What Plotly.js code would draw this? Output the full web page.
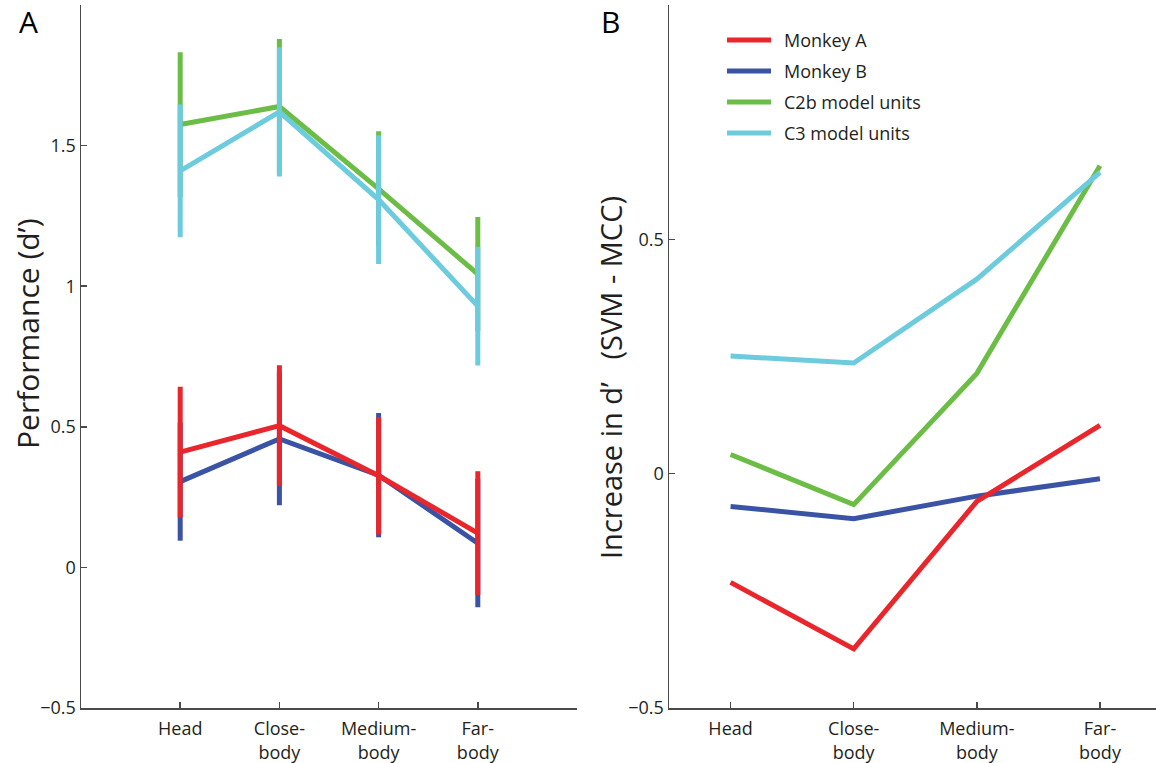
<!DOCTYPE html>
<html>
<head>
<meta charset="utf-8">
<script src="https://cdn.plot.ly/plotly-3.0.1.min.js"></script>
<style>
  html, body { margin: 0; padding: 0; background: #ffffff; }
  #chart { width: 1156px; height: 763px; }
</style>
</head>
<body>
<div id="chart"></div>
<script>
// Stimulus conditions (x positions 1..4) and their two-line tick labels
const categories = ['Head', 'Close-body', 'Medium-body', 'Far-body'];
const tickLabels = ['Head', 'Close-<br>body', 'Medium-<br>body', 'Far-<br>body'];
const xPos = [1, 2, 3, 4];

// Series names and colours
const seriesNames = ['Monkey A', 'Monkey B', 'C2b model units', 'C3 model units'];
const seriesColors = ['#e8262b', '#3a53a4', '#6bbd45', '#6ccbdd'];

// Panel A: performance (d') with error bars
const monkeyA_perf = [0.41, 0.504, 0.326, 0.122];
const monkeyA_err  = [0.232, 0.215, 0.209, 0.22];
const monkeyB_perf = [0.305, 0.457, 0.328, 0.086];
const monkeyB_err  = [0.21, 0.236, 0.221, 0.228];
const c2b_perf     = [1.575, 1.639, 1.346, 1.043];
const c2b_err      = [0.257, 0.24, 0.205, 0.203];
const c3_perf      = [1.41, 1.62, 1.308, 0.929];
const c3_err       = [0.236, 0.23, 0.229, 0.211];

// Panel B: increase in d' (SVM - MCC)
const monkeyA_diff = [-0.232, -0.374, -0.059, 0.103];
const monkeyB_diff = [-0.070, -0.096, -0.048, -0.011];
const c2b_diff     = [0.041, -0.066, 0.214, 0.657];
const c3_diff      = [0.251, 0.236, 0.415, 0.643];

// Axis ticks
const perfTicks = [-0.5, 0, 0.5, 1, 1.5];
const diffTicks = [-0.5, 0, 0.5];

const W = 1156, H = 763;
const px = v => v / W;          // pixel -> paper x
const py = v => 1 - v / H;      // pixel -> paper y

// Drawing order: Monkey B, Monkey A, C2b, C3 (later traces sit on top)
const perfSeries = [
  [monkeyB_perf, monkeyB_err, 1],
  [monkeyA_perf, monkeyA_err, 0],
  [c2b_perf, c2b_err, 2],
  [c3_perf, c3_err, 3]
];
const diffSeries = [
  [monkeyB_diff, 1],
  [monkeyA_diff, 0],
  [c2b_diff, 2],
  [c3_diff, 3]
];

const traces = [];
perfSeries.forEach(([vals, errs, k]) => {
  traces.push({
    x: xPos, y: vals, type: 'scatter', mode: 'lines',
    name: seriesNames[k], showlegend: false,
    line: { color: seriesColors[k], width: 5 },
    error_y: { type: 'data', array: errs, visible: true, color: seriesColors[k], thickness: 5, width: 0 },
    xaxis: 'x', yaxis: 'y', hoverinfo: 'skip'
  });
});
diffSeries.forEach(([vals, k]) => {
  traces.push({
    x: xPos, y: vals, type: 'scatter', mode: 'lines',
    name: seriesNames[k], showlegend: false,
    line: { color: seriesColors[k], width: 5 },
    xaxis: 'x2', yaxis: 'y2', hoverinfo: 'skip'
  });
});

const axisColor = '#4a4a4a';
const tickFont = { family: 'Open Sans, Noto Sans, sans-serif', size: 18, color: '#231f20' };
const baseAxis = {
  showgrid: false, zeroline: false, showline: true,
  linecolor: axisColor, linewidth: 1.5,
  ticks: 'inside', ticklen: 6, tickwidth: 1.5, tickcolor: axisColor,
  tickfont: tickFont, fixedrange: true
};

const yDomain = [55 / H, 1 - 5 / H];

// Legend keys and labels, stacked in panel B
const shapes = [];
const annotations = [];
seriesNames.forEach((name, i) => {
  const yc = 40 + 31 * i;
  shapes.push({
    type: 'line', xref: 'paper', yref: 'paper',
    x0: px(727), x1: px(771), y0: py(yc), y1: py(yc),
    line: { color: seriesColors[i], width: 5 }
  });
  annotations.push({
    xref: 'paper', yref: 'paper', x: px(782), y: py(yc),
    xanchor: 'left', yanchor: 'middle', showarrow: false,
    text: name, font: tickFont
  });
});

const titleFont = { family: 'Open Sans, Noto Sans, sans-serif', size: 30, color: '#231f20' };
annotations.push(
  { xref: 'paper', yref: 'paper', x: px(17), y: py(21), xanchor: 'left', yanchor: 'middle',
    showarrow: false, text: 'A', font: { family: 'Open Sans, sans-serif', size: 30, color: '#000' } },
  { xref: 'paper', yref: 'paper', x: px(599), y: py(21), xanchor: 'left', yanchor: 'middle',
    showarrow: false, text: 'B', font: { family: 'Open Sans, sans-serif', size: 30, color: '#000' } },
  { xref: 'paper', yref: 'paper', x: px(27), y: py(334), xanchor: 'center', yanchor: 'middle',
    textangle: -90, showarrow: false, text: 'Performance (d’)', font: titleFont },
  { xref: 'paper', yref: 'paper', x: px(610), y: py(378), xanchor: 'center', yanchor: 'middle',
    textangle: -90, showarrow: false,
    text: 'Increase in d’\u00a0\u00a0\u00a0(SVM - MCC)', font: Object.assign({}, titleFont, { size: 29 }) }
);

const layout = {
  width: W, height: H, autosize: false,
  margin: { l: 0, r: 0, t: 0, b: 0, pad: 0 },
  paper_bgcolor: '#ffffff', plot_bgcolor: 'rgba(0,0,0,0)',
  showlegend: false,
  xaxis: Object.assign({}, baseAxis, {
    domain: [px(81), px(577)], range: [0, 5], anchor: 'y',
    tickvals: xPos, ticktext: tickLabels, ticklabelstandoff: 4
  }),
  yaxis: Object.assign({}, baseAxis, {
    domain: yDomain, range: [-0.5, 2.0], anchor: 'x',
    tickvals: perfTicks, ticklabelstandoff: 0
  }),
  xaxis2: Object.assign({}, baseAxis, {
    domain: [px(669), 1], range: [0.5, 4.455], anchor: 'y2',
    tickvals: xPos, ticktext: tickLabels, ticklabelstandoff: 4
  }),
  yaxis2: Object.assign({}, baseAxis, {
    domain: yDomain, range: [-0.5, 1.0], anchor: 'x2',
    tickvals: diffTicks, ticklabelstandoff: 0
  }),
  shapes: shapes,
  annotations: annotations
};

Plotly.newPlot('chart', traces, layout, { displayModeBar: false, staticPlot: true });
</script>
</body>
</html>
